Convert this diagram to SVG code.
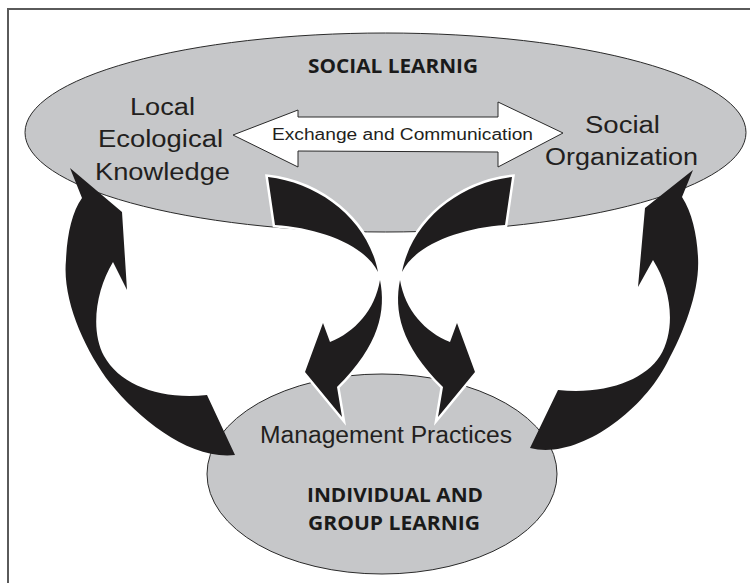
<svg xmlns="http://www.w3.org/2000/svg" width="750" height="583" viewBox="0 0 750 583">
<style>
.ell{fill:#c6c7c9;stroke:#2a2a2a;stroke-width:1}
.lbl{font-family:"Liberation Sans",Arial,sans-serif;fill:#231f20}
.big{font-size:23px}
.hdr{font-family:"Open Sans","Liberation Sans",sans-serif;font-weight:bold;font-size:20px;fill:#1a1a1a}
.arrow{fill:#1f1d1e;stroke:none}
.warrow{fill:#1f1d1e;stroke:#fff;stroke-width:5;stroke-linejoin:miter;paint-order:stroke}
.frame{stroke:#5a5a5a;stroke-width:2;fill:none}
</style>
<rect width="750" height="583" fill="#fff"/>
<path class="frame" d="M8,583 L8,9 L750,9"/>

<g id="social-learning">
<ellipse class="ell" cx="385.5" cy="132.5" rx="360.5" ry="99.5"/>
<text class="hdr" x="308" y="73" textLength="170" lengthAdjust="spacingAndGlyphs">SOCIAL LEARNIG</text>
</g>

<g id="local-ecological-knowledge">
<text class="lbl big" x="130" y="115" textLength="65" lengthAdjust="spacingAndGlyphs">Local</text>
<text class="lbl big" x="98" y="147" textLength="125" lengthAdjust="spacingAndGlyphs">Ecological</text>
<text class="lbl big" x="95" y="180" textLength="135" lengthAdjust="spacingAndGlyphs">Knowledge</text>
</g>

<g id="social-organization">
<text class="lbl big" x="585" y="133" textLength="75" lengthAdjust="spacingAndGlyphs">Social</text>
<text class="lbl big" x="545" y="165" textLength="153" lengthAdjust="spacingAndGlyphs">Organization</text>
</g>

<g id="individual-learning">
<ellipse class="ell" cx="382" cy="474" rx="175" ry="100"/>
<text class="lbl big" x="260" y="443" textLength="252" lengthAdjust="spacingAndGlyphs">Management Practices</text>
<text class="hdr" x="307" y="502" textLength="176" lengthAdjust="spacingAndGlyphs">INDIVIDUAL AND</text>
<text class="hdr" x="308" y="530" textLength="172" lengthAdjust="spacingAndGlyphs">GROUP LEARNIG</text>
</g>

<g id="exchange">
<path d="M233,135 L298,110 L298,117 L498,117 L498,102 L563,133 L498,167 L498,152 L298,151 L298,167 Z" fill="#fff" stroke="#2a2a2a" stroke-width="1"/>
<text class="lbl" x="272" y="140" font-size="16" textLength="261" lengthAdjust="spacingAndGlyphs">Exchange and Communication</text>
</g>

<g id="connectors">
<path class="arrow" d="M70,168 L122,212 L127,290 L113,262 C96,290 90,330 104,356 C120,385 160,400 207,395 L235,455 C190,460 140,420 110,383 C85,350 62,300 66,260 C67,235 72,212 82,198 Z"/>
<path class="arrow" d="M693,170 L645,208 L638,287 L653,260 C672,290 676,330 660,356 C645,380 605,395 558,390 L530,448 C575,460 640,415 667,363 C685,330 700,290 698,257 C697,235 692,212 682,197 Z"/>
<path class="warrow" d="M268,177 C320,183 368,220 378,272 C365,245 320,228 275,225 Z"/>
<path class="warrow" d="M380,280 C386,310 380,345 337,387 L342,417 L305,372 L323,323 L330,342 C355,332 375,310 380,280 Z"/>
<g transform="matrix(-1 0 0 1 780 0)">
<path class="warrow" d="M268,177 C320,183 368,220 378,272 C365,245 320,228 275,225 Z"/>
<path class="warrow" d="M380,280 C386,310 380,345 337,387 L342,417 L305,372 L323,323 L330,342 C355,332 375,310 380,280 Z"/>
</g>
</g>
</svg>
